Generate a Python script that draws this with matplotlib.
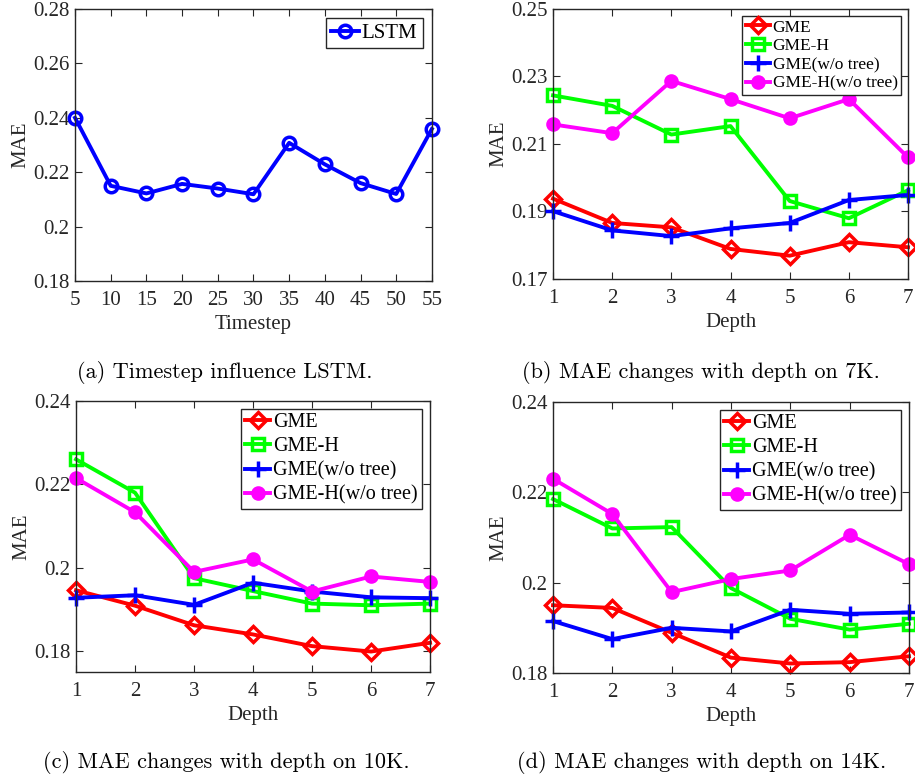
import matplotlib
matplotlib.use("Agg")
import matplotlib.pyplot as plt
from matplotlib.ticker import FuncFormatter

# ---- data ----
timesteps = [5, 10, 15, 20, 25, 30, 35, 40, 45, 50, 55]
lstm_mae = [0.2400, 0.2150, 0.2122, 0.2157, 0.2140, 0.2119, 0.2308, 0.2229, 0.2160, 0.2120, 0.2359]

depths = [1, 2, 3, 4, 5, 6, 7]
series_names = ["GME", "GME-H", "GME(w/o tree)", "GME-H(w/o tree)"]

# 7K
gme_7k = [0.1938, 0.1866, 0.1853, 0.1789, 0.1769, 0.1809, 0.1794]
gmeh_7k = [0.2244, 0.2213, 0.2128, 0.2153, 0.1931, 0.1880, 0.1963]
gmewo_7k = [0.1901, 0.1844, 0.1827, 0.1850, 0.1866, 0.1934, 0.1949]
gmehwo_7k = [0.2158, 0.2132, 0.2287, 0.2233, 0.2176, 0.2233, 0.2060]

# 10K
gme_10k = [0.1946, 0.1909, 0.1862, 0.1840, 0.1812, 0.1799, 0.1820]
gmeh_10k = [0.2260, 0.2180, 0.1975, 0.1944, 0.1914, 0.1910, 0.1914]
gmewo_10k = [0.1928, 0.1934, 0.1911, 0.1964, 0.1943, 0.1929, 0.1927]
gmehwo_10k = [0.2215, 0.2133, 0.1990, 0.2020, 0.1943, 0.1979, 0.1966]

# 14K
gme_14k = [0.1950, 0.1944, 0.1889, 0.1834, 0.1821, 0.1824, 0.1837]
gmeh_14k = [0.2185, 0.2120, 0.2123, 0.1988, 0.1920, 0.1896, 0.1909]
gmewo_14k = [0.1915, 0.1875, 0.1900, 0.1892, 0.1940, 0.1931, 0.1934]
gmehwo_14k = [0.2230, 0.2152, 0.1979, 0.2008, 0.2027, 0.2106, 0.2041]

captions = ["(a) Timestep influence LSTM.",
            "(b) MAE changes with depth on 7K.",
            "(c) MAE changes with depth on 10K.",
            "(d) MAE changes with depth on 14K."]

# ---- style ----
plt.rcParams['font.family'] = ['Liberation Serif', 'DejaVu Serif']
AX_COLOR = '#262626'

fig = plt.figure(figsize=(9.15, 7.83), dpi=100)

def style_axes(ax, fs=15):
    for s in ax.spines.values():
        s.set_color(AX_COLOR)
        s.set_linewidth(1.0)
    ax.tick_params(direction='in', top=True, right=True, length=5, width=0.8,
                   colors=AX_COLOR, labelsize=fs, labelcolor=AX_COLOR)
    ax.tick_params(axis='x', pad=7)
    ax.tick_params(axis='y', pad=4)

def fmt(v, pos=None):
    return ('%.3f' % v).rstrip('0').rstrip('.')

LW = 2.8
MS = 9
MEW = 2.5

# (a)
ax_a = fig.add_axes([0.082, 0.6411, 0.390, 0.3474])
ax_a.plot(timesteps, lstm_mae, color='#0000ff', lw=LW, marker='o', ms=MS,
          mfc='none', mec='#0000ff', mew=MEW, label='LSTM', clip_on=False)
ax_a.set_xlim(5, 55)
ax_a.set_ylim(0.18, 0.28)
ax_a.set_xticks(timesteps)
ax_a.set_yticks([0.18, 0.20, 0.22, 0.24, 0.26, 0.28])
ax_a.yaxis.set_major_formatter(FuncFormatter(fmt))
style_axes(ax_a, 15)
ax_a.set_xlabel('Timestep', fontsize=15, color=AX_COLOR, labelpad=4)
ax_a.set_ylabel('MAE', fontsize=15, color=AX_COLOR, labelpad=2)
ax_a.legend(loc='upper right', fontsize=15, fancybox=False, framealpha=1,
            edgecolor=AX_COLOR, handlelength=1.3, handletextpad=0.15,
            borderpad=0.25, borderaxespad=0.45).get_frame().set_linewidth(1.0)

def depth_panel(rect, data, ylim, yticks, legend_fs, tick_fs, hl, ls):
    ax = fig.add_axes(rect)
    styles = [dict(color='#ff0000', marker='D', mfc='none', mec='#ff0000', ms=MS - 1),
              dict(color='#00ff00', marker='s', mfc='none', mec='#00ff00', ms=MS - 1),
              dict(color='#0000ff', marker='+', mec='#0000ff', ms=MS + 2),
              dict(color='#ff00ff', marker='o', mfc='#ff00ff', mec='#ff00ff', ms=MS - 1)]
    for name, vals, st in zip(series_names, data, styles):
        ax.plot(depths, vals, lw=LW, mew=MEW, label=name, clip_on=False, **st)
    ax.set_xlim(1, 7)
    ax.set_ylim(*ylim)
    ax.set_xticks(depths)
    ax.set_yticks(yticks)
    ax.yaxis.set_major_formatter(FuncFormatter(fmt))
    style_axes(ax, tick_fs)
    ax.set_xlabel('Depth', fontsize=tick_fs, color=AX_COLOR, labelpad=4)
    ax.set_ylabel('MAE', fontsize=tick_fs, color=AX_COLOR, labelpad=2)
    leg = ax.legend(loc='upper right', fontsize=legend_fs, fancybox=False, framealpha=1,
                    edgecolor=AX_COLOR, handlelength=hl, handletextpad=0.15,
                    borderpad=0.2, labelspacing=ls, borderaxespad=0.4)
    leg.get_frame().set_linewidth(1.0)
    return ax

depth_panel([0.6044, 0.6437, 0.388, 0.3448],
            [gme_7k, gmeh_7k, gmewo_7k, gmehwo_7k],
            (0.17, 0.25), [0.17, 0.19, 0.21, 0.23, 0.25], 12.5, 15, 1.4, 0.15)
depth_panel([0.0831, 0.1418, 0.3869, 0.3461],
            [gme_10k, gmeh_10k, gmewo_10k, gmehwo_10k],
            (0.175, 0.24), [0.18, 0.20, 0.22, 0.24], 14.5, 15, 1.25, 0.25)
depth_panel([0.6044, 0.1405, 0.389, 0.3461],
            [gme_14k, gmeh_14k, gmewo_14k, gmehwo_14k],
            (0.18, 0.24), [0.18, 0.20, 0.22, 0.24], 14.5, 15, 1.25, 0.25)

cap_pos = [(225, 372), (701, 372), (226, 762), (702, 762)]
for (x, y), txt in zip(cap_pos, captions):
    fig.text(x / 915, 1 - y / 783, txt, ha='center', va='center',
             fontsize=16, family=['cmr10', 'DejaVu Serif'], color='black')

fig.savefig('out.png', dpi=100)
